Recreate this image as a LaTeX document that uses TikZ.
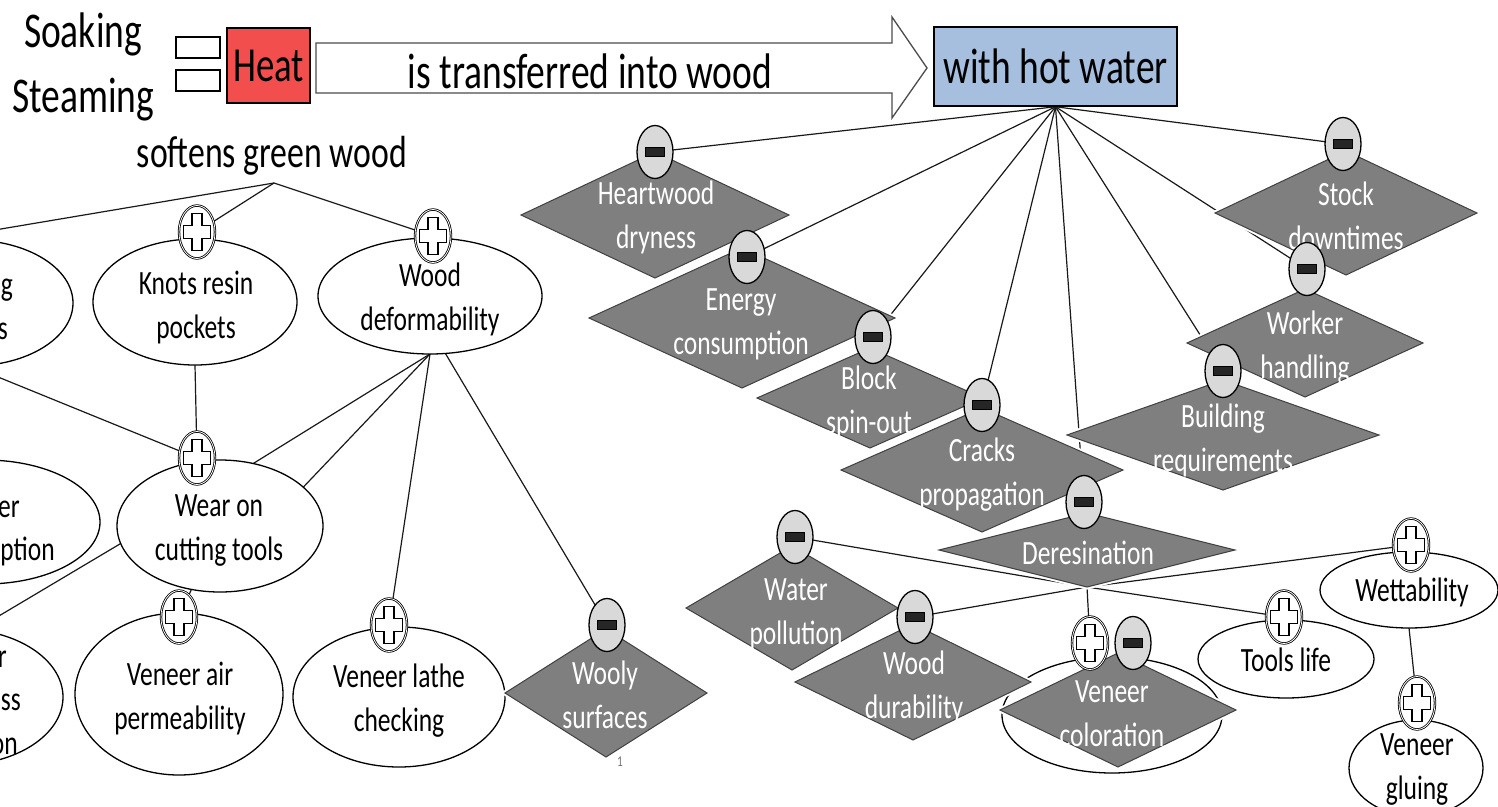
\documentclass[tikz,border=0pt]{standalone}
\usepackage{fontspec}
\setmainfont{Carlito}[FakeStretch=0.75]
\usetikzlibrary{shapes.geometric}
\pgfdeclarelayer{bg}
\pgfsetlayers{bg,main}
\definecolor{heatred}{RGB}{242,78,78}
\definecolor{hotblue}{RGB}{166,191,222}
\definecolor{diagray}{RGB}{127,127,127}
\definecolor{minusgray}{RGB}{217,217,217}
\definecolor{bardark}{RGB}{38,38,38}
\begin{document}
\begin{tikzpicture}[x=1pt,y=-1pt,
  lbl/.style={font=\fontsize{34}{44}\selectfont, align=center, inner sep=0pt, yshift=-2pt},
  wlbl/.style={lbl, text=white, yshift=-1pt},
  big/.style={font=\fontsize{50}{60}\selectfont, inner sep=0pt},
  ell/.style={ellipse, draw=black, line width=1.3pt, fill=white, inner sep=0pt, outer sep=0pt},
  dia/.style={diamond, draw=black!75, line width=1pt, fill=diagray, inner sep=0pt, outer sep=0pt, preaction={draw=white, line width=5pt}},
  conn/.style={draw=black!90, line width=1.2pt},
  pluss/.style={ellipse, draw=black, line width=0.8pt, double=white, double distance=0.8pt, fill=white,
    minimum width=36pt, minimum height=53pt, inner sep=0pt, outer sep=0pt,
    path picture={\draw[black, line width=1.2pt, fill=white, shift={(path picture bounding box.center)}]
      (-5pt,-18.5pt) -- (5pt,-18.5pt) -- (5pt,-6.5pt) -- (13.5pt,-6.5pt) -- (13.5pt,6.5pt) -- (5pt,6.5pt) --
      (5pt,18.5pt) -- (-5pt,18.5pt) -- (-5pt,6.5pt) -- (-13.5pt,6.5pt) -- (-13.5pt,-6.5pt) -- (-5pt,-6.5pt) -- cycle;}},
  minuss/.style={ellipse, draw=black, line width=1.3pt, fill=minusgray,
    minimum width=36pt, minimum height=53pt, inner sep=0pt, outer sep=0pt,
    path picture={\draw[black, line width=0.6pt, fill=bardark, shift={(path picture bounding box.center)}]
      (-9.5pt,-4.5pt) rectangle (9.5pt,4.5pt);}},
  eqbox/.style={draw=black, line width=1.5pt, fill=white, minimum width=44pt, minimum height=21pt, inner sep=0pt}
]
\useasboundingbox (0,0) rectangle (1498,806);
\clip (0,0) rectangle (1498,806);

% ---------- top row ----------
\node[big, anchor=base] (soak) at (83,47) {Soaking};
\node[big, anchor=base] (steam) at (83,112) {Steaming};
\node[eqbox] (eq1) at (198,47.5) {};
\node[eqbox] (eq2) at (198,80.5) {};
\node[draw=black, line width=1.5pt, fill=heatred, minimum width=83pt, minimum height=75pt, inner sep=0pt,
      font=\fontsize{49}{58}\selectfont] (heat) at (268.5,65.5) {Heat};
\draw[draw=black!70, line width=1.3pt, fill=white]
  (316,43) -- (892,43) -- (892,17) -- (927,68) -- (892,118) -- (892,93) -- (316,93) -- cycle;
\node[big, anchor=base] (arrtxt) at (590,88) {is transferred into wood};
\node[draw=black, line width=1.5pt, fill=hotblue, minimum width=243pt, minimum height=79pt, inner sep=0pt,
      font=\fontsize{50}{60}\selectfont] (hw) at (1055.5,66.5) {with hot water};
\node[font=\fontsize{45}{54}\selectfont, anchor=base, inner sep=0pt] (soft) at (272,167) {softens green wood};
\coordinate (sh) at (274,183);

% ---------- left part ----------
\node[ell, minimum width=204pt, minimum height=126pt] (e1) at (-29,303) {};
\node[lbl, anchor=base east, yshift=0pt] (e1a) at (13,293) {g};
\node[lbl, anchor=base east, yshift=0pt] (e1b) at (8,337) {s};
\coordinate (e1c) at (-11,231);
\node[ell, minimum width=230pt, minimum height=124pt] (e2) at (-15,522) {};
\node[lbl, anchor=base east, yshift=0pt] (e2a) at (20,515) {er};
\node[lbl, anchor=base east, yshift=0pt] (e2b) at (55,558) {ption};
\node[ell, minimum width=208pt, minimum height=136pt] (e3) at (-41,697) {};
\node[lbl, anchor=base east, yshift=0pt] (e3a) at (7,665) {r};
\node[lbl, anchor=base east, yshift=0pt] (e3b) at (21,708) {ss};
\node[lbl, anchor=base east, yshift=0pt] (e3d) at (18,752) {on};
\coordinate (e3p) at (-23,629);

\node[ell, minimum width=204pt, minimum height=126pt] (kn) at (195,302) {};
\node[lbl] (knt) at (196,306) {\strut Knots resin\\\strut pockets};
\node[pluss] (kp) at (197,232) {};

\node[ell, minimum width=224pt, minimum height=116pt] (wd) at (430,296) {};
\node[lbl] (wdt) at (430,298) {\strut Wood\\\strut deformability};
\node[pluss] (wp) at (433,236) {};

\node[ell, minimum width=206pt, minimum height=132pt] (wc) at (220,526) {};
\node[lbl] (wct) at (219,528) {\strut Wear on\\\strut cutting tools};
\node[pluss] (wcp) at (197,458) {};

\node[ell, minimum width=208pt, minimum height=162pt] (va) at (179,694) {};
\node[lbl] (vat) at (180,697) {\strut Veneer air\\\strut permeability};
\node[pluss] (vap) at (179,617) {};

\node[ell, minimum width=212pt, minimum height=140pt] (vl) at (399,697) {};
\node[lbl] (vlt) at (399,699) {\strut Veneer lathe\\\strut checking};
\node[pluss] (lp) at (389,625) {};

\node[dia, minimum width=202pt, minimum height=128pt] (wo) at (606,693) {};
\node[wlbl] (wot) at (605,695) {\strut Wooly\\\strut surfaces};
\node[minuss] (wm) at (607,625) {};
\node[font=\fontsize{15}{18}\selectfont, text=black!55, anchor=base, inner sep=0pt] (pg) at (620,766) {1};

% ---------- right part ----------
\node[dia, minimum width=268pt, minimum height=126pt] (hd) at (655,215) {};
\node[wlbl] (hdt) at (656,215) {\strut Heartwood\\\strut dryness};
\node[minuss] (hm) at (655,152) {};

\node[dia, minimum width=262pt, minimum height=124pt] (st) at (1346,213) {};
\node[wlbl] (stt) at (1346,216) {\strut Stock\\\strut downtimes};
\node[minuss] (sm) at (1343,144) {};

\node[dia, minimum width=306pt, minimum height=140pt] (en) at (742,318) {};
\node[wlbl] (ent) at (741,321) {\strut Energy\\\strut consumption};
\node[minuss] (em) at (747,257) {};

\node[dia, minimum width=226pt, minimum height=100pt] (bl) at (870,398) {};
\node[wlbl] (blt) at (869,400) {\strut Block\\\strut spin-out};
\node[minuss] (bm) at (873,337) {};

\node[dia, minimum width=236pt, minimum height=108pt] (wh) at (1305,343) {};
\node[wlbl] (wht) at (1305,345) {\strut Worker\\\strut handling};
\node[minuss] (whm) at (1307,269) {};

\node[dia, minimum width=282pt, minimum height=124pt] (cr) at (982,470) {};
\node[wlbl] (crt) at (982,472) {\strut Cracks\\\strut propagation};
\node[minuss] (cm) at (982,405) {};

\node[dia, minimum width=312pt, minimum height=110pt] (br) at (1223,435) {};
\node[wlbl] (brt) at (1223,438) {\strut Building\\\strut requirements};
\node[minuss] (brm) at (1223,371) {};

\node[dia, minimum width=296pt, minimum height=74pt] (dr) at (1087,550) {};
\node[wlbl] (drt) at (1088,553) {\strut Deresination};
\node[minuss] (dm) at (1084,502) {};

\node[dia, minimum width=212pt, minimum height=124pt] (wa) at (792,608) {};
\node[wlbl] (wat) at (796,611) {\strut Water\\\strut pollution};
\node[minuss] (wpm) at (795,537) {};

\node[ell, minimum width=220pt, minimum height=116pt] (cce) at (1112,715) {};

\node[dia, minimum width=236pt, minimum height=116pt] (wdu) at (913,682) {};
\node[wlbl] (wdut) at (914,685) {\strut Wood\\\strut durability};
\node[minuss] (wdm) at (915,617) {};

\node[dia, minimum width=236pt, minimum height=114pt] (ccd) at (1118,710) {};
\node[wlbl] (ccdt) at (1112,713) {\strut Veneer\\\strut coloration};
\node[pluss] (ccp) at (1090,643) {};
\node[minuss] (ccm) at (1133,643) {};

\node[ell, minimum width=176pt, minimum height=78pt] (tl) at (1286,659) {};
\node[lbl] (tlt) at (1286,661) {\strut Tools life};
\node[pluss] (tlp) at (1284,617) {};

\node[ell, minimum width=178pt, minimum height=76pt] (wt) at (1409,590) {};
\node[lbl] (wtt) at (1412,591) {\strut Wettability};
\node[pluss] (wtp) at (1411,545) {};

\node[ell, minimum width=134pt, minimum height=96pt] (gl) at (1416,768) {};
\node[lbl] (glt) at (1417,767) {\strut Veneer\\\strut gluing};
\node[pluss] (gp) at (1417,703) {};

% ---------- connectors ----------
\begin{pgfonlayer}{bg}
\clip (0,0) rectangle (1498,806);
\draw[conn] (sh) -- (e1c);
\draw[conn] (sh) -- (kp);
\draw[conn] (sh) -- (wp);
\draw[conn] (kn.south) -- (wcp);
\draw[conn] (e1.south) -- (wcp);
\draw[conn] (wd.south) -- (wc.62.7);
\draw[conn] (wd.south) -- (wc.25.7);
\draw[conn] (wd.south) -- (lp);
\draw[conn] (wd.-75) -- (wm);
\draw[conn] (wc.190) -- (e3p);
\draw[conn] (wc) -- (vap);
\draw[conn] (hw.south) -- (hm);
\draw[conn] (hw.south) -- (em);
\draw[conn] (hw.south) -- (bm);
\draw[conn] (hw.south) -- (cm);
\draw[conn] (hw.south) -- (dm);
\draw[conn] (hw.south) -- (brm);
\draw[conn] (hw.south) -- (whm);
\draw[conn] (hw.south) -- (sm);
\draw[conn] (dr.south) -- (wpm);
\draw[conn] (dr.south) -- (wdm);
\draw[conn] (dr.south) -- (tlp);
\draw[conn] (dr.south) -- (wtp);
\draw[conn] (dr.south) -- (ccp);
\draw[conn] (wt.south) -- (gp);
\end{pgfonlayer}
\end{tikzpicture}
\end{document}
